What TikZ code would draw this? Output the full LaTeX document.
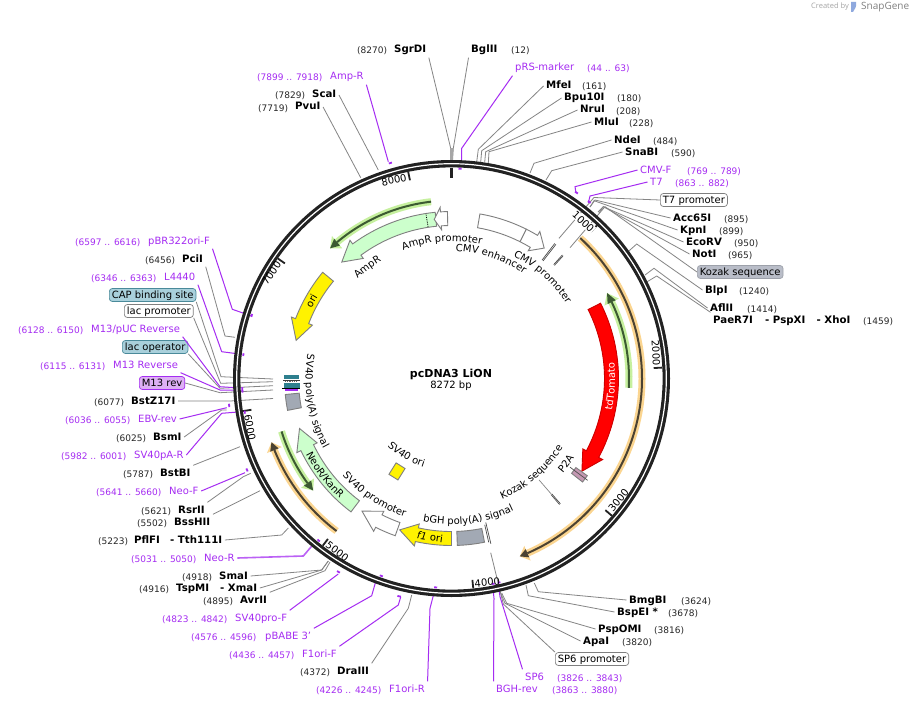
\documentclass[tikz,border=0pt]{standalone}
\usepackage{fontspec}
\setmainfont{DejaVu Sans}
\newfontfamily\logofont{Open Sans}
\usetikzlibrary{decorations.text}
\definecolor{prp}{HTML}{A52CF2}
\definecolor{ringc}{HTML}{222222}
\definecolor{leadc}{HTML}{858585}
\definecolor{edgec}{HTML}{7F7F7F}
\definecolor{lgreen}{HTML}{CCFFCC}
\definecolor{orhalo}{HTML}{FBD590}
\definecolor{grhalo}{HTML}{C6F09E}
\definecolor{ordark}{HTML}{4B4232}
\definecolor{grdark}{HTML}{3C5A32}
\definecolor{greyblock}{HTML}{A2A9B4}
\definecolor{p2ac}{HTML}{C498B2}
\definecolor{tealc}{HTML}{2E7F8E}
\definecolor{tealbox}{HTML}{A9D0DB}
\definecolor{tealedge}{HTML}{4A8A9A}
\definecolor{prpbox}{HTML}{DDB0F4}
\definecolor{kozbox}{HTML}{B9BDC8}
\newcommand\lblf{\fontsize{10}{12}\selectfont}
\tikzset{
 namelab/.style={inner sep=2.5pt,text height=8pt,text depth=2pt,font=\fontsize{10.2}{12}\selectfont\bfseries,anchor=west},
 numlab/.style={inner sep=0pt,text height=8pt,text depth=2pt,font=\fontsize{9}{11}\selectfont,anchor=west,text=black!85},
 primlab/.style={inner sep=2.5pt,text height=8pt,text depth=2pt,font=\fontsize{10}{12}\selectfont,anchor=west,text=prp},
 primnum/.style={inner sep=0pt,text height=8pt,text depth=2pt,font=\fontsize{9}{11}\selectfont,anchor=west,text=prp},
 boxlab/.style={rounded corners=3pt,inner xsep=2.5pt,inner ysep=1.5pt,text height=8pt,text depth=2pt,font=\fontsize{10}{12}\selectfont,anchor=west,line width=.7pt},
 gl/.style={draw=leadc,line width=.8pt},
 pl/.style={draw=prp,line width=1pt},
 plb/.style={draw=prp!75,line width=1.6pt},
 prm/.style={draw=prp,line width=1.8pt},
 feat/.style={draw=edgec,line width=.9pt,line join=miter},
 tklab/.style={inner sep=.6pt,font=\fontsize{10}{12}\selectfont},
 rad/.style={draw=black!70,line width=.7pt},
}
% name + number of a restriction site
\newcommand\site[6]{\node[numlab] (#1n) at (#2,#4+1) {#5};\node[namelab] (#1) at (#3-2.5,#4) {#6};}
\newcommand\prim[6]{\node[primnum] (#1n) at (#2,#4+1) {#5};\node[primlab] (#1) at (#3-2.5,#4) {#6};}
% connector: style, node, anchor, elbow, free end
\newcommand\conn[5]{\coordinate (e#2) at (#5);\draw[#1] (#2.#3) -- (#4) -- (e#2);}
% arrow feature: style, tail angle, neck angle, tip angle
\newcommand\arrowfeat[4]{\draw[feat,#1] (#2:167) arc[start angle=#2,end angle=#3,radius=167pt] -- (#3:171.5) -- (#4:160) -- (#3:149) -- (#3:153) arc[start angle=#3,end angle=#2,radius=153pt] -- cycle;}
% ORF: halo, dark, start, neck, tip, radius
\newcommand\orf[6]{\pgfmathsetmacro\rha{#6-8}\pgfmathsetmacro\rhb{#6+8}\pgfmathsetmacro\rda{#6-4.5}\pgfmathsetmacro\rdb{#6+4.5}%
 \draw[#1,line width=7pt] (#3:#6) arc[start angle=#3,end angle=#4,radius=#6 pt];%
 \fill[#1] (#4:\rha) -- (#5:#6) -- (#4:\rhb) -- cycle;%
 \draw[#2,line width=2pt] (#3:#6) arc[start angle=#3,end angle=#4,radius=#6 pt];%
 \fill[#2] (#4:\rda) -- (#5:#6) -- (#4:\rdb) -- cycle;}
% primer mark
\newcommand\primer[3]{\pgfmathsetmacro\aa{90-#1/8272*360}\pgfmathsetmacro\ab{90-#2/8272*360}\draw[prm] (\aa:#3) arc[start angle=\aa,end angle=\ab,radius=#3 pt];}
% tick
\newcommand\tickm[2]{\pgfmathsetmacro\aa{90-#1/8272*360}\draw[ringc,line width=#2pt] (\aa:211) -- (\aa:202.5);}
% curved texts
\newcommand\ctop[3]{\pgfmathsetmacro\aa{#2+70}\pgfmathsetmacro\ab{#2-70}\path[decorate,decoration={text along path,text align=center,text={|\lblf|#3}}] (\aa:#1) arc[start angle=\aa,end angle=\ab,radius=#1 pt];}
\newcommand\cbot[3]{\pgfmathsetmacro\aa{#2-70}\pgfmathsetmacro\ab{#2+70}\path[decorate,decoration={text along path,text align=center,text={|\lblf|#3}}] (\aa:#1) arc[start angle=\aa,end angle=\ab,radius=#1 pt];}
\newcommand\cbotw[3]{\pgfmathsetmacro\aa{#2-70}\pgfmathsetmacro\ab{#2+70}\path[decorate,decoration={text along path,text align=center,text color=white,text={|\lblf|#3}}] (\aa:#1) arc[start angle=\aa,end angle=\ab,radius=#1 pt];}
\begin{document}
\begin{tikzpicture}[x=1pt,y=-1pt]
\useasboundingbox (0,0) rectangle (909,706);
\fill[white] (0,0) rectangle (909,706);

% ---------- labels, clockwise from the top
\site{sgrdi}{357}{394}{50}{(8270)}{SgrDI}
\site{bglii}{511}{471}{50}{(12)}{BglII}
\prim{prs}{587}{515}{68}{(44 .. 63)}{pRS-marker}
\site{mfei}{582}{546}{86}{(161)}{MfeI}
\site{bpu}{617}{564}{98}{(180)}{Bpu10I}
\site{nrui}{616}{580}{110}{(208)}{NruI}
\site{mlui}{629}{594}{122}{(228)}{MluI}
\site{ndei}{653}{614}{140}{(484)}{NdeI}
\site{snab}{671}{625}{152}{(590)}{SnaBI}
\prim{cmvf}{687}{640}{170}{(769 .. 789)}{CMV-F}
\prim{tsev}{675}{650}{182}{(863 .. 882)}{T7}
\node[boxlab,draw=edgec,fill=white] (t7p) at (660,200) {T7 promoter};
\site{acc}{724}{673}{218}{(895)}{Acc65I}
\site{kpni}{719}{680}{230}{(899)}{KpnI}
\site{ecorv}{734}{686}{242}{(950)}{EcoRV}
\site{noti}{728}{692}{254}{(965)}{NotI}
\node[boxlab,draw=kozbox!85!black,fill=kozbox] (koz) at (697,272) {Kozak sequence};
\site{blpi}{739}{705}{290}{(1240)}{BlpI}
\site{afl}{747}{710}{308}{(1414)}{AflII}
\site{pae}{863}{713}{320}{(1459)}{PaeR7I}
\node[namelab] (psp) at (762.5,320) {- PspXI};
\node[namelab] (xho) at (814,320) {- XhoI};
\site{bmg}{681}{629}{600}{(3624)}{BmgBI}
\site{bsp}{668}{617}{612}{(3678)}{BspEI *}
\site{pspo}{654}{598}{629}{(3816)}{PspOMI}
\site{apai}{622}{583}{641}{(3820)}{ApaI}
\node[boxlab,draw=edgec,fill=white] (sp6p) at (555,659) {SP6 promoter};
\prim{sp6}{557}{525}{677}{(3826 .. 3843)}{SP6}
\prim{bgh}{552}{496}{689}{(3863 .. 3880)}{BGH-rev}
\prim{f1r}{316}{389}{689}{(4226 .. 4245)}{F1ori-R}
\site{dra}{300}{337}{671}{(4372)}{DraIII}
\prim{f1f}{229}{302}{654}{(4436 .. 4457)}{F1ori-F}
\prim{pbabe}{191}{265}{636}{(4576 .. 4596)}{pBABE 3'}
\prim{svf}{162}{235}{618}{(4823 .. 4842)}{SV40pro-F}
\site{avr}{203}{240}{600}{(4895)}{AvrII}
\site{tsp}{139}{176}{588}{(4916)}{TspMI}
\node[namelab] (xma) at (217.5,588) {- XmaI};
\site{sma}{182}{219}{576}{(4918)}{SmaI}
\prim{neor}{131}{204}{558}{(5031 .. 5050)}{Neo-R}
\site{pfl}{98}{134}{540}{(5223)}{PflFI}
\node[namelab] (tth) at (167.5,540) {- Tth111I};
\site{bss}{137}{174}{522}{(5502)}{BssHII}
\site{rsr}{141}{178}{510}{(5621)}{RsrII}
\prim{neof}{96}{169}{491}{(5641 .. 5660)}{Neo-F}
\site{bstb}{123}{160}{473}{(5787)}{BstBI}
\prim{svr}{61}{134}{455}{(5982 .. 6001)}{SV40pA-R}
\site{bsm}{116}{153}{437}{(6025)}{BsmI}
\prim{ebv}{65}{138}{419}{(6036 .. 6055)}{EBV-rev}
\site{bstz}{94}{131}{401}{(6077)}{BstZ17I}
\node[boxlab,draw=prp,fill=prpbox] (m13b) at (139,383) {M13 rev};
\prim{m13r}{40}{113}{365}{(6115 .. 6131)}{M13 Reverse}
\node[boxlab,draw=tealedge,fill=tealbox] (lacop) at (122,347) {lac operator};
\prim{m13p}{18}{91}{329}{(6128 .. 6150)}{M13/pUC Reverse}
\node[boxlab,draw=edgec,fill=white] (lacp) at (124,311) {lac promoter};
\node[boxlab,draw=tealedge,fill=tealbox] (cap) at (109,295) {CAP binding site};
\prim{l44}{91}{164}{277}{(6346 .. 6363)}{L4440}
\site{pci}{145}{182}{259}{(6456)}{PciI}
\prim{pbr}{75}{148}{241}{(6597 .. 6616)}{pBR322ori-F}
\site{pvu}{258}{295}{107}{(7719)}{PvuI}
\site{sca}{275}{312}{95}{(7829)}{ScaI}
\prim{ampr}{257}{330}{77}{(7899 .. 7918)}{Amp-R}

% ---------- connectors
\conn{gl}{sgrdi}{south east}{450.7,148.3}{450.9,161}
\conn{gl}{bglii}{south west}{453.3,148.3}{452.5,161}
\draw[draw=black!35,line width=3pt] (451.5,148) -- (451.5,162);
\conn{pl}{prs}{south west}{461.7,148.3}{461.7,166}
\conn{gl}{mfei}{west}{478.3,149.3}{476.7,162}
\conn{gl}{bpu}{west}{481.7,150.7}{480.7,162}
\conn{gl}{nrui}{west}{485.7,151.7}{484.7,162}
\conn{gl}{mlui}{west}{489,151.7}{488.3,163}
\conn{gl}{ndei}{west}{534,163.3}{530,173}
\conn{gl}{snab}{west}{551.7,170.7}{546,180}
\conn{pl}{cmvf}{west}{575,186.7}{576,193}
\conn{pl}{tsev}{west}{590,196}{588.3,203}
\conn{gl}{t7p}{west}{594,197.5}{559,238.3}
\conn{gl}{acc}{west}{595,200}{590,207}
\conn{gl}{kpni}{west}{594,200.7}{590,207}
\conn{gl}{ecorv}{west}{603.3,206.7}{598,212}
\conn{gl}{noti}{west}{603.3,206.7}{599,213}
\conn{gl}{koz}{west}{605,206.7}{570,247.7}
\conn{gl}{blpi}{west}{636.7,244}{627.7,252}
\conn{gl}{afl}{west}{654,268.3}{645,275}
\conn{gl}{pae}{north west}{656.7,276}{646.7,282}
\conn{gl}{bmg}{west}{538.3,591.7}{534.3,583}
\conn{gl}{bsp}{west}{528.3,595.7}{526,585}
\conn{gl}{pspo}{west}{506.7,603.3}{501.7,593}
\conn{gl}{apai}{west}{505,603.3}{500.7,593}
\conn{gl}{sp6p}{north west}{503.3,604}{490.7,552.7}
\conn{pl}{sp6}{north west}{500,596.7}{498.3,585}
\conn{pl}{bgh}{north west}{494,598.3}{492.7,586}
\conn{pl}{f1r}{north east}{430,608.3}{435,589}
\conn{gl}{dra}{north east}{408.3,608.3}{411.7,595}
\conn{pl}{f1f}{north east}{398.3,605}{400.7,597}
\conn{pl}{pbabe}{north east}{371.7,595.7}{376.7,578}
\conn{pl}{svf}{north east}{338.3,574}{338.3,574}
\conn{gl}{avr}{north east}{325,570.7}{330,562}
\conn{gl}{xma}{east}{321.7,570}{328.3,561}
\conn{gl}{sma}{east}{321.7,570}{328.3,561}
\conn{plb}{neor}{east}{303.3,556}{313.3,544.3}
\conn{gl}{tth}{east}{281.7,535}{288.3,528}
\conn{gl}{bss}{north east}{260,490.7}{260,490.7}
\conn{gl}{rsr}{north east}{243.3,476.7}{250.7,473.3}
\conn{pl}{neof}{east}{245,472.7}{245,472.7}
\conn{gl}{bstb}{north east}{240,446.7}{240,446.7}
\conn{pl}{svr}{east}{221.7,413.3}{241.7,411.7}
\conn{gl}{bsm}{east}{221.7,410}{226.7,410}
\conn{pl}{ebv}{east}{226.7,407.7}{226.7,407.7}
\conn{gl}{bstz}{east}{230,401}{273,398.5}
\conn{pl}{m13r}{south east}{220,390}{240,390}
\conn{gl}{m13b}{east}{220,392.7}{273,390}
\conn{gl}{lacop}{south east}{220,388.3}{273,385.7}
\conn{pl}{m13p}{south east}{220,386.7}{240,388}
\conn{gl}{lacp}{south east}{220.7,383.3}{273,381.7}
\conn{gl}{cap}{south east}{221,376.7}{273,379}
\conn{pl}{l44}{south east}{221.7,351.7}{241.7,354.3}
\conn{gl}{pci}{south east}{225,336}{235,337.3}
\conn{pl}{pbr}{south east}{232.3,309.3}{250.7,315.7}
\conn{gl}{pvu}{east}{360.7,177.7}{360.7,177.7}
\conn{gl}{sca}{east}{378.3,170}{378.3,170}
\conn{pl}{ampr}{south east}{388.3,161.7}{388.3,161.7}

\begin{scope}[shift={(451.5,378.5)},x=1pt,y=1pt]
% ring
\draw[ringc,line width=7.4pt] (0,0) circle[radius=214.8pt];
\draw[white,line width=1.2pt] (0,0) circle[radius=214.8pt];
% ticks
\draw[ringc,line width=3pt] (90:211) -- (90:201);
\tickm{1000}{1.8}\tickm{2000}{1.8}\tickm{3000}{1.8}\tickm{4000}{1.8}\tickm{5000}{1.8}\tickm{6000}{1.8}\tickm{7000}{1.8}\tickm{8000}{1.8}
% primers
\primer{7899}{7918}{224}
\primer{44}{63}{210}
\primer{769}{789}{224}
\primer{863}{882}{224}
\primer{3826}{3843}{209.5}
\primer{3863}{3880}{209.5}
\primer{4226}{4245}{209.5}
\primer{4436}{4457}{224}
\primer{4576}{4596}{209.5}
\primer{4823}{4842}{224}
\primer{5031}{5050}{209.5}
\primer{5641}{5660}{224}
\primer{5982}{6001}{209.5}
\primer{6036}{6055}{224}
\primer{6115}{6131}{209.5}
\primer{6128}{6150}{209.5}
\primer{6346}{6363}{209.5}
\primer{6597}{6616}{209.5}
% ORFs
\orf{orhalo}{ordark}{47.5}{-66.5}{-69}{190.5}
\orf{orhalo}{ordark}{-127}{-158}{-160.5}{191}
\orf{grhalo}{grdark}{-3}{25.5}{28.8}{177.5}
\orf{grhalo}{grdark}{96.6}{130}{133}{178}
\orf{grhalo}{grdark}{-162.7}{-144}{-141}{178}
% features
\arrowfeat{fill=red,draw=red!80!black}{26.8}{-28.2}{-35.4}
\arrowfeat{fill=lgreen}{95.6}{126.3}{133.3}
\arrowfeat{fill=yellow}{140.5}{159}{166.2}
\arrowfeat{fill=lgreen}{-127}{-154.4}{-161.8}
\arrowfeat{fill=yellow}{-90}{-102.5}{-108.9}
\arrowfeat{fill=white}{-109.7}{-117}{-124}
\arrowfeat{fill=white}{63.4}{59}{54.6}
\draw[feat,fill=white] (80.2:167) arc[start angle=80.2,end angle=63.4,radius=167pt] -- (63.4:153) arc[start angle=63.4,end angle=80.2,radius=153pt] -- cycle;
\arrowfeat{fill=white}{91.4}{93.8}{96.2}
\draw[black,densely dotted,line width=.8pt] (98.8:153.5) -- (98.8:166.5);
\draw[feat,fill=greyblock] (-78.6:167) arc[start angle=-78.6,end angle=-88,radius=167pt] -- (-88:153) arc[start angle=-88,end angle=-78.6,radius=153pt] -- cycle;
\draw[feat,fill=greyblock] (-169:167) arc[start angle=-169,end angle=-174.5,radius=167pt] -- (-174.5:153) arc[start angle=-174.5,end angle=-169,radius=153pt] -- cycle;
\draw[feat,fill=p2ac] (-35.6:167) arc[start angle=-35.6,end angle=-38.3,radius=167pt] -- (-38.3:153) arc[start angle=-38.3,end angle=-35.6,radius=153pt] -- cycle;
\draw[rad] (-36.8:148) -- (-36.8:170);
% thin radial features
\draw[rad] (52.1:149) -- (52.1:170);\draw[rad] (52.6:149) -- (52.6:170);
\draw[rad] (47.7:153) -- (47.7:166);\draw[rad] (48.1:153) -- (48.1:166);
\draw[rad] (-76.6:148) -- (-76.6:170);\draw[rad] (-77.2:150) -- (-77.2:168);
\draw[rad] (-49:153) -- (-49:166);\draw[rad] (-49.4:153) -- (-49.4:166);
\draw[leadc,line width=.7pt] (-49.2:134) -- (-49.2:153);
% curved labels on and beside the features
\ctop{137}{94}{AmpR promoter}
\ctop{137}{127}{AmpR}
\ctop{127}{71.7}{CMV enhancer}
\ctop{137}{48.1}{CMV promoter}
\ctop{156.5}{151}{ori}
\cbotw{163.5}{-2.8}{tdTomato}
\cbot{146}{-36.6}{P2A}
\cbot{131}{-49.5}{Kozak sequence}
\cbot{146}{-83}{bGH poly(A) signal}
\cbot{146}{-123.5}{SV40 promoter}
\cbot{164}{-142.7}{NeoR/KanR}
\cbot{146}{-170.5}{SV40 poly(A) signal}
\cbot{93}{-120.5}{SV40 ori}
\end{scope}

% small blocks near the lac region
\fill[tealc] (284,375) rectangle (299,379);
\draw[black!75,line width=.7pt] (283,380) -- (300,380);
\draw[white!40!black,dash pattern=on 1.2pt off 1pt,line width=1.6pt] (285,381.6) -- (297,381.6);
\fill[tealc] (284,383.3) rectangle (300,387.7);
\fill[prp] (285,388.5) rectangle (298,391);
\draw[black,line width=.8pt] (282,388.4) -- (300,388.4);
\node[feat,fill=yellow,draw=edgec,minimum width=10.6pt,minimum height=13.5pt,inner sep=0pt,rotate=-32] (svori) at (397,471.4) {};
\node[inner sep=0pt,font=\fontsize{10}{12}\selectfont,rotate=-7.7] (f1txt) at (430,537) {\textit{f1} ori};

% tick labels
\node[tklab,fill=white,rotate=-43] (t1k) at (583.3,221.7) {1000};
\node[tklab,rotate=-87] (t2k) at (656,353) {2000};
\node[tklab,rotate=50] (t3k) at (618.5,500.5) {3000};
\node[tklab,rotate=5] (t4k) at (487.3,582.3) {4000};
\node[tklab,rotate=-37] (t5k) at (337.3,551.7) {5000};
\node[tklab,rotate=-80] (t6k) at (250,427.5) {6000};
\node[tklab,rotate=55] (t7k) at (271.5,273) {7000};
\node[tklab,rotate=12] (t8k) at (394,180) {8000};

% centre
\node[font=\fontsize{11}{13}\selectfont\bfseries,inner sep=0pt] (title) at (451,374) {pcDNA3 LiON};
\node[font=\fontsize{10}{12}\selectfont,inner sep=0pt] (size) at (451,386) {8272 bp};

% credit
\node[font=\logofont\fontsize{7.5}{9}\selectfont,text=black!35,anchor=west,inner sep=0pt] (cred) at (811,7) {Created by};
\fill[cyan!45!blue!45] (851,2) -- (856,2) .. controls (857,6) and (855,9) .. (853,12) -- (851,12) -- cycle;
\node[font=\logofont\fontsize{10}{12}\selectfont,text=black!50,anchor=west,inner sep=0pt] (sg) at (861,7) {SnapGene};
\end{tikzpicture}
\end{document}
